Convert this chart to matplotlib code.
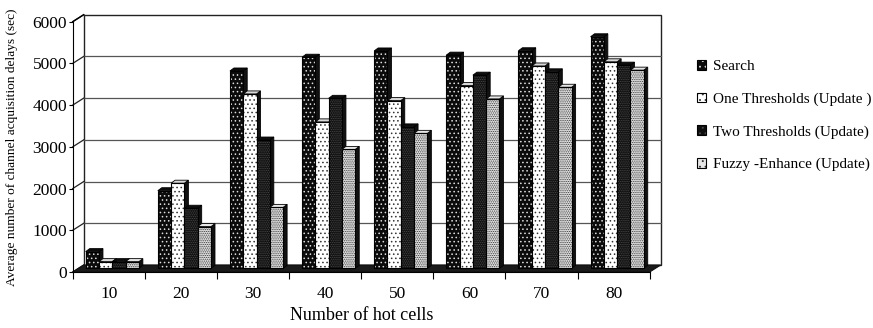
import numpy as np
import matplotlib.pyplot as plt
from matplotlib.patches import Rectangle, Polygon, Patch

# data
cells = ['10', '20', '30', '40', '50', '60', '70', '80']
labels = ['Search', 'One Thresholds (Update )', 'Two Thresholds (Update)',
          'Fuzzy -Enhance (Update)']
search = [400, 1860, 4730, 5060, 5210, 5110, 5215, 5550]
one_thr = [160, 2040, 4180, 3510, 4020, 4380, 4850, 4950]
two_thr = [160, 1440, 3075, 4075, 3390, 4630, 4710, 4870]
fuzzy = [160, 1000, 1460, 2850, 3235, 4060, 4340, 4750]
series = [search, one_thr, two_thr, fuzzy]

# (face colour, dot colour, hatch)
styles = [('#0b0b0b', '#dddddd', '....'),
          ('white', '#333333', '....'),
          ('#0e0e0e', '#4a4a4a', '.........'),
          ('#e6e6e6', '#333333', '.........')]

plt.rcParams['font.family'] = ['Liberation Serif', 'DejaVu Serif']
plt.rcParams['hatch.linewidth'] = 0.6

W, H = 873, 328
fig = plt.figure(figsize=(W / 100, H / 100), dpi=100)
left, bottom, aw, ah = 72.7, 272.0, 577.0, 250.3
ax = fig.add_axes([left / W, (H - bottom) / H, aw / W, ah / H])
ax.set_xlim(0, 8)
ax.set_ylim(0, 6000)

# pixel -> data units
px = 8 / aw
py = 6000 / ah

# back wall / side wall / floor of the 3-D box
wx, wy = 11 * px, 7 * py
ax.add_patch(Rectangle((wx, wy), 8, 6000, facecolor='white', edgecolor='#222222',
                       lw=1.0, zorder=0, clip_on=False))
for t in range(1000, 6000, 1000):
    ax.plot([wx, 8 + wx], [t + wy, t + wy], color='#555555', lw=0.9, zorder=0.5,
            clip_on=False)
for t in range(0, 7000, 1000):
    ax.plot([0, wx], [t, t + wy], color='#222222', lw=0.9, zorder=0.5, clip_on=False)
ax.plot([0, wx], [6000, 6000 + wy], color='black', lw=1.0, zorder=0.6, clip_on=False)
ax.add_patch(Polygon([(0, 0), (8, 0), (8 + wx, wy), (wx, wy)], closed=True,
                     facecolor='#1a1a1a', edgecolor='#111111', lw=0.8, zorder=1,
                     clip_on=False))

# bars
bw = 13.3 * px
fx, fy = 3.5 * px, 3.7 * py      # front face offset inside the floor
dx, dy = 4 * px, 3 * py          # bar depth


def draw_bar(x0, h, face, dot, hatch, z):
    y0 = fy
    x0 = x0 + fx
    top = y0 + h
    side = Polygon([(x0 + bw, y0), (x0 + bw + dx, y0 + dy), (x0 + bw + dx, top + dy),
                    (x0 + bw, top)], closed=True, facecolor='#111111',
                   edgecolor='black', lw=0.6, zorder=z, clip_on=False)
    cap = Polygon([(x0, top), (x0 + bw, top), (x0 + bw + dx, top + dy), (x0 + dx, top + dy)],
                  closed=True, facecolor=face if face != 'white' else '#d8d8d8',
                  edgecolor='black', lw=0.6, zorder=z, clip_on=False)
    ax.add_patch(side)
    ax.add_patch(cap)
    ax.add_patch(Rectangle((x0, y0), bw, h, facecolor=face, edgecolor=dot, hatch=hatch,
                           lw=0, zorder=z + 0.1, clip_on=False))
    ax.add_patch(Rectangle((x0, y0), bw, h, facecolor='none', edgecolor='black',
                           lw=0.8, zorder=z + 0.2, clip_on=False))


xs = np.arange(len(cells))
z = 2
for i in range(len(cells)):
    start = xs[i] + 0.5 - 2 * bw
    for j, vals in enumerate(series):
        face, dot, hatch = styles[j]
        draw_bar(start + j * bw, vals[i], face, dot, hatch, z)
        z += 0.5

# axes
for s in ['top', 'right']:
    ax.spines[s].set_visible(False)
ax.spines['left'].set_zorder(3)
ax.set_yticks(range(0, 7000, 1000))
ax.tick_params(axis='y', length=3, pad=1, labelsize=12.5)
ax.set_xticks(range(9))
ax.set_xticklabels([])
ax.tick_params(axis='x', which='major', length=5)
ax.set_xticks(xs + 0.5, minor=True)
ax.set_xticklabels(cells, minor=True)
ax.tick_params(axis='x', which='minor', length=0, pad=10, labelsize=12.5)

ax.set_ylabel('Average number of channel acquisition delays (sec)', fontsize=9.6)
ax.yaxis.set_label_coords(-0.094, 0.5)
ax.set_xlabel('Number of hot cells', fontsize=13)
ax.xaxis.set_label_coords(0.5, -0.14)

# legend
handles = []
for face, dot, hatch in styles:
    handles.append((Patch(facecolor=face, edgecolor=dot, hatch=hatch[:3], lw=0),
                    Patch(facecolor='none', edgecolor='black', lw=0.8)))
fig.legend(handles, labels, loc='upper left', bbox_to_anchor=(697 / W, 1 - 60 / H),
           frameon=False, fontsize=11, handlelength=0.6, handleheight=0.6,
           handletextpad=0.45, labelspacing=1.26, borderpad=0, borderaxespad=0)

fig.savefig('out.png', dpi=100)
